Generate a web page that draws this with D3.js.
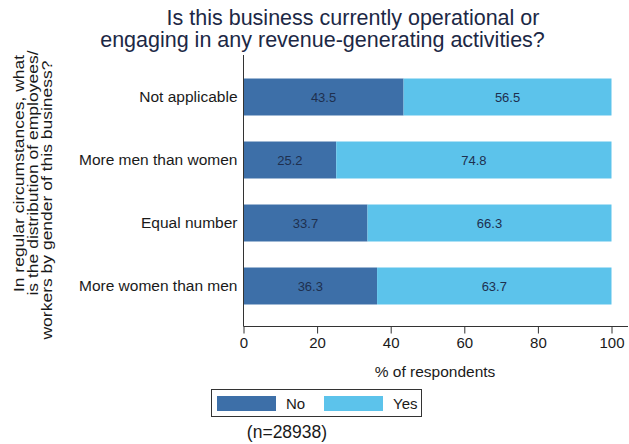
<!DOCTYPE html>
<html>
<head>
<meta charset="utf-8">
<script src="https://cdn.jsdelivr.net/npm/d3@7"></script>
<style>
  html, body { margin: 0; padding: 0; background: #fff; }
  svg { display: block; font-family: "Liberation Sans", Arial, sans-serif; }
</style>
</head>
<body>
<svg id="chart" width="629" height="444"></svg>
<script>
const categories = ["Not applicable", "More men than women", "Equal number", "More women than men"];
const noValues = [43.5, 25.2, 33.7, 36.3];
const yesValues = [56.5, 74.8, 66.3, 63.7];
const seriesNames = ["No", "Yes"];
const xTicks = [0, 20, 40, 60, 80, 100];
const titleLines = ["Is this business currently operational or", "engaging in any revenue-generating activities?"];
const yTitleLines = ["In regular circumstances, what", "is the distribution of employees/", "workers by gender of this business?"];
const xTitle = "% of respondents";
const noteText = "(n=28938)";

const colors = { No: "#3d6fa8", Yes: "#5cc3eb" };
const svg = d3.select("#chart");

const x = d3.scaleLinear().domain([0, 100]).range([243.5, 611.5]);
const y = d3.scaleBand().domain(categories).range([65.5, 317.5]).paddingInner(0.413).paddingOuter(0.2065);

const rows = categories.map((c, i) => ({ cat: c, No: noValues[i], Yes: yesValues[i] }));
const stacked = d3.stack().keys(seriesNames)(rows);

// bars
svg.append("g").selectAll("g").data(stacked).join("g")
  .attr("fill", d => colors[d.key])
  .selectAll("rect").data(d => d).join("rect")
  .attr("x", d => x(d[0]))
  .attr("y", d => y(d.data.cat))
  .attr("width", d => x(d[1]) - x(d[0]))
  .attr("height", y.bandwidth());

// value labels
svg.append("g").selectAll("g").data(stacked).join("g")
  .selectAll("text").data(d => d.map(v => ({ v, key: d.key }))).join("text")
  .attr("x", d => (x(d.v[0]) + x(d.v[1])) / 2)
  .attr("y", d => y(d.v.data.cat) + y.bandwidth() / 2)
  .attr("dy", "0.36em")
  .attr("text-anchor", "middle")
  .attr("font-size", 13)
  .attr("fill", "#1e2f4f")
  .text(d => d.v.data[d.key].toFixed(1));

// y axis
const yAxis = svg.append("g").attr("transform", "translate(243.5,0)")
  .call(d3.axisLeft(y).tickSize(0).tickPadding(6));
yAxis.select(".domain").remove();
yAxis.selectAll("text").attr("font-size", 15.5).attr("fill", "#1a1a1a")
  .attr("font-family", "Liberation Sans, Arial, sans-serif");
svg.append("line").attr("x1", 243.5).attr("x2", 243.5).attr("y1", 55).attr("y2", 326.5)
  .attr("stroke", "#333").attr("stroke-width", 1);

// x axis
const xAxis = svg.append("g").attr("transform", "translate(0,326.5)")
  .call(d3.axisBottom(x).tickValues(xTicks).tickSize(7).tickPadding(4).tickFormat(d3.format("d")));
xAxis.select(".domain").remove();
xAxis.selectAll(".tick line").attr("stroke", "#333");
xAxis.selectAll("text").attr("font-size", 15).attr("fill", "#1a1a1a")
  .attr("font-family", "Liberation Sans, Arial, sans-serif");
svg.append("line").attr("x1", 243.5).attr("x2", 628).attr("y1", 326.5).attr("y2", 326.5)
  .attr("stroke", "#333").attr("stroke-width", 1);

// x title
svg.append("text").attr("x", 435).attr("y", 377).attr("text-anchor", "middle")
  .attr("font-size", 15.5).attr("fill", "#1a1a1a").text(xTitle);

// title
const titlePos = [[353, 25], [322.5, 47]];
svg.append("g").selectAll("text").data(titleLines).join("text")
  .attr("x", (d, i) => titlePos[i][0]).attr("y", (d, i) => titlePos[i][1])
  .attr("text-anchor", "middle").attr("font-size", 21.5).attr("fill", "#1c2845")
  .text(d => d);

// y title (rotated, glyphs slightly condensed as in the reference)
const yTitlePos = [[24, 173.5], [38, 173], [52, 200]];
svg.append("g").selectAll("text").data(yTitleLines).join("text")
  .attr("transform", (d, i) => `translate(${yTitlePos[i][0]},${yTitlePos[i][1]}) rotate(-90) scale(1,0.85)`)
  .attr("text-anchor", "middle").attr("font-size", 17.5).attr("fill", "#1a1a1a")
  .text(d => d);

// legend
const leg = svg.append("g");
leg.append("rect").attr("x", 211.5).attr("y", 389.5).attr("width", 210).attr("height", 27)
  .attr("fill", "#fff").attr("stroke", "#333").attr("stroke-width", 1);
const legX = [217, 324];
const legTX = [286, 393];
seriesNames.forEach((s, i) => {
  leg.append("rect").attr("x", legX[i]).attr("y", 396).attr("width", 59).attr("height", 15)
    .attr("fill", colors[s]);
  leg.append("text").attr("x", legTX[i]).attr("y", 408.5).attr("font-size", 15)
    .attr("fill", "#1a1a1a").text(s);
});

// note
svg.append("text").attr("x", 287).attr("y", 438).attr("text-anchor", "middle")
  .attr("font-size", 17.5).attr("fill", "#1a1a1a").text(noteText);
</script>
</body>
</html>
